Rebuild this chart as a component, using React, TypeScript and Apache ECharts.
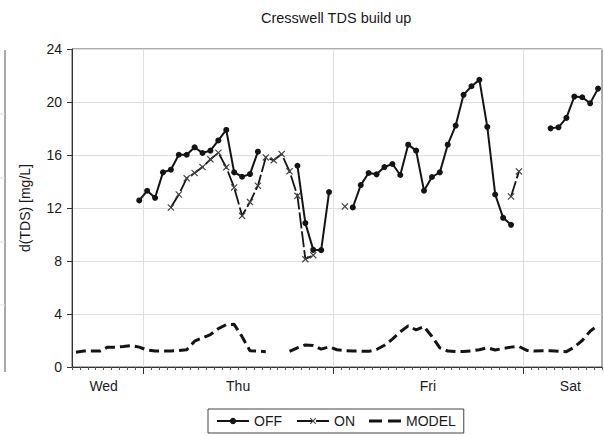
import React, { useEffect, useRef } from "react";
import * as echarts from "echarts";

// Hours are counted from Wednesday 00:00; one sample per hour at hh:30.
const FIRST_SAMPLE_HOUR = 15.5;
const AXIS_MIN_HOUR = 15;
const AXIS_MAX_HOUR = 82;
const DAY_BOUNDARY_HOURS = [24, 48, 72];
const DAY_LABEL_HOURS = [19, 36, 60, 78];
const DAY_NAMES = ["Wed", "Thu", "Fri", "Sat"];
const Y_MIN = 0;
const Y_MAX = 24;
const Y_STEP = 4;

const OFF: (number | null)[] = [
  null, null, null, null, null, null, null, null,
  12.57, 13.3, 12.77, 14.69, 14.89, 16.02, 16.02, 16.58, 16.15, 16.33, 17.1, 17.89,
  14.69, 14.36, 14.56, 16.25,
  null, null, null, null,
  15.19, 10.86, 8.84, 8.82, 13.2,
  null, null,
  12.04, 13.73, 14.64, 14.54, 15.09, 15.32, 14.49, 16.78, 16.33, 13.3, 14.34, 14.69,
  16.78, 18.22, 20.54, 21.19, 21.67, 18.12, 13.02, 11.26, 10.73,
  null, null, null, null,
  18.01, 18.09, 18.8, 20.41, 20.36, 19.9, 21.01,
];

const ON: (number | null)[] = [
  null, null, null, null, null, null, null, null, null, null, null, null,
  12.04, 13.02, 14.24, 14.64, 15.09, 15.67, 16.17, 15.07, 13.55, 11.41, 12.45, 13.68,
  15.82, 15.6, 16.07, 14.77, 12.92, 8.14, 8.44,
  null, null, null,
  12.12,
  null, null, null, null, null, null, null, null, null, null,
  null, null, null, null, null, null, null, null, null, null,
  12.87, 14.76,
  null, null, null, null, null, null, null, null, null, null,
];

const MODEL: (number | null)[] = [
  1.11, 1.2, 1.2, 1.2, 1.5, 1.5, 1.55, 1.62, 1.5, 1.28,
  1.2, 1.2, 1.2, 1.25, 1.3, 1.95, 2.2, 2.45, 2.9, 3.2,
  3.22, 2.29, 1.23, 1.2, 1.16, null, null, 1.18, 1.45, 1.66,
  1.62, 1.35, 1.52, 1.3, 1.23, 1.2, 1.2, 1.18, 1.32, 1.64,
  2.1, 2.65, 3.1, 2.8, 3.05, 2.3, 1.45, 1.2, 1.17, 1.17,
  1.22, 1.3, 1.45, 1.28, 1.4, 1.5, 1.55, 1.25, 1.2, 1.22,
  1.22, 1.18, 1.16, 1.5, 2.0, 2.7, 3.17,
];

const toPairs = (vals: (number | null)[]) =>
  vals.map((v, i) => [FIRST_SAMPLE_HOUR + i, v]);

const FONT = "'Liberation Sans', Arial, sans-serif";
const INK = "#141414";
const CROSS =
  "path://M0,1.2L1.2,0L5,3.8L8.8,0L10,1.2L6.2,5L10,8.8L8.8,10L5,6.2L1.2,10L0,8.8L3.8,5Z";
const DASH_ICON = "path://M0,0H13V3.2H0ZM19,0H32V3.2H19Z";

export default function App() {
  const ref = useRef<HTMLDivElement>(null);
  useEffect(() => {
    if (!ref.current) return;
    const chart = echarts.init(ref.current, undefined, { renderer: "svg" });
    chart.setOption({
      animation: false,
      backgroundColor: "#ffffff",
      textStyle: { fontFamily: FONT },
      title: {
        text: "Cresswell TDS build up",
        left: 261,
        top: 10,
        padding: 0,
        textStyle: { fontSize: 14.5, fontWeight: "normal", color: "#1a1a1a", fontFamily: FONT },
      },
      grid: {
        left: 72,
        right: 2,
        top: 49,
        bottom: 69,
        show: true,
        borderColor: "#5a5a5a",
        borderWidth: 1,
        backgroundColor: "transparent",
      },
      legend: {
        data: ["OFF", "ON", { name: "MODEL", icon: DASH_ICON }],
        left: 208,
        top: 409,
        padding: [5, 8],
        itemGap: 14,
        itemWidth: 32,
        itemHeight: 8,
        symbolKeepAspect: true,
        borderColor: "#444",
        borderWidth: 1,
        borderRadius: 0,
        textStyle: { fontSize: 14, color: "#1a1a1a", fontFamily: FONT },
      },
      xAxis: [
        {
          type: "value",
          min: AXIS_MIN_HOUR,
          max: AXIS_MAX_HOUR,
          interval: 1,
          position: "bottom",
          axisLine: { show: true, onZero: false, lineStyle: { color: "#333", width: 1 } },
          axisTick: { show: true, length: 3, lineStyle: { color: "#555" } },
          axisLabel: { show: false },
          splitLine: { show: false },
        },
        {
          type: "value",
          min: AXIS_MIN_HOUR,
          max: AXIS_MAX_HOUR,
          position: "bottom",
          axisLine: { show: false, onZero: false },
          axisTick: {
            show: true,
            length: 7,
            customValues: DAY_BOUNDARY_HOURS,
            lineStyle: { color: "#333" },
          },
          axisLabel: {
            show: true,
            customValues: DAY_LABEL_HOURS,
            margin: 12,
            fontSize: 14,
            color: "#1a1a1a",
            fontFamily: FONT,
            formatter: (v: number) => DAY_NAMES[DAY_LABEL_HOURS.indexOf(v)] ?? "",
          },
          splitLine: { show: true, lineStyle: { color: "#dedede", width: 1 } },
        },
      ],
      yAxis: {
        type: "value",
        min: Y_MIN,
        max: Y_MAX,
        interval: Y_STEP,
        name: "d(TDS) [mg/L]",
        nameLocation: "middle",
        nameGap: 40,
        nameTextStyle: { fontSize: 14, color: "#1a1a1a", fontFamily: FONT },
        axisLine: { show: true, lineStyle: { color: "#333" } },
        axisTick: { show: true, length: 5, lineStyle: { color: "#333" } },
        axisLabel: { fontSize: 14, color: "#1a1a1a", margin: 10, fontFamily: FONT },
        splitLine: { show: true, lineStyle: { color: "#dedede", width: 1 } },
      },
      series: [
        {
          name: "OFF",
          type: "line",
          xAxisIndex: 0,
          data: toPairs(OFF),
          connectNulls: false,
          symbol: "circle",
          symbolSize: 6,
          showAllSymbol: true,
          itemStyle: { color: INK },
          lineStyle: { color: INK, width: 2 },
          z: 4,
        },
        {
          name: "ON",
          type: "line",
          xAxisIndex: 0,
          data: toPairs(ON),
          connectNulls: false,
          symbol: CROSS,
          symbolSize: 7,
          showAllSymbol: true,
          itemStyle: { color: "#444" },
          lineStyle: { color: INK, width: 1.8, type: [16, 3] },
          z: 3,
        },
        {
          name: "MODEL",
          type: "line",
          xAxisIndex: 0,
          data: toPairs(MODEL),
          connectNulls: false,
          symbol: "none",
          itemStyle: { color: INK },
          lineStyle: { color: INK, width: 3, type: [10, 5] },
          z: 2,
        },
      ],
      graphic: [
        { type: "line", shape: { x1: 5, y1: 50, x2: 5, y2: 372 }, style: { stroke: "#555", lineWidth: 1 } },
        { type: "line", shape: { x1: 0, y1: 114, x2: 5, y2: 114 }, style: { stroke: "#e0e0e0", lineWidth: 1 } },
        { type: "line", shape: { x1: 0, y1: 178, x2: 5, y2: 178 }, style: { stroke: "#e0e0e0", lineWidth: 1 } },
        { type: "line", shape: { x1: 0, y1: 242, x2: 5, y2: 242 }, style: { stroke: "#e0e0e0", lineWidth: 1 } },
        { type: "line", shape: { x1: 0, y1: 305, x2: 5, y2: 305 }, style: { stroke: "#e0e0e0", lineWidth: 1 } },
      ],
    });
    return () => chart.dispose();
  }, []);
  return (
    <div
      ref={ref}
      style={{ position: "fixed", left: 0, top: 0, width: 604, height: 436, background: "#fff" }}
    />
  );
}
